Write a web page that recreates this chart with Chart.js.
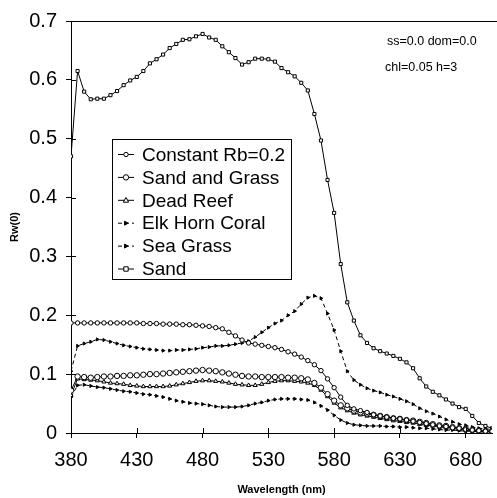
<!DOCTYPE html>
<html>
<head>
<meta charset="utf-8">
<script src="https://cdn.jsdelivr.net/npm/chart.js@4/dist/chart.umd.min.js"></script>
<style>
  html, body { margin: 0; padding: 0; background: #fff; }
  #wrap { width: 497px; height: 498px; }
</style>
</head>
<body>
<div id="wrap"><canvas id="rwChart" width="497" height="498"></canvas></div>
<script>
// wavelength (nm), every 5 nm
var wavelengths = [380, 385, 390, 395, 400, 405, 410, 415, 420, 425, 430, 435, 440, 445, 450, 455,
  460, 465, 470, 475, 480, 485, 490, 495, 500, 505, 510, 515, 520, 525, 530, 535, 540, 545, 550,
  555, 560, 565, 570, 575, 580, 585, 590, 595, 600, 605, 610, 615, 620, 625, 630, 635, 640, 645,
  650, 655, 660, 665, 670, 675, 680, 685, 690, 695, 700];

var constantRb = [0.187, 0.187, 0.187, 0.187, 0.187, 0.187, 0.187, 0.187, 0.187, 0.187, 0.187, 0.186,
  0.186, 0.186, 0.185, 0.185, 0.185, 0.184, 0.184, 0.183, 0.182, 0.181, 0.179, 0.177, 0.171, 0.165,
  0.158, 0.153, 0.151, 0.149, 0.147, 0.145, 0.142, 0.138, 0.134, 0.129, 0.123, 0.116, 0.106, 0.092,
  0.077, 0.061, 0.047, 0.041, 0.038, 0.035, 0.031, 0.029, 0.027, 0.025, 0.024, 0.022, 0.020, 0.018,
  0.016, 0.014, 0.012, 0.011, 0.009, 0.008, 0.006, 0.005, 0.004, 0.003, 0.003];

var sandGrass = [0.072, 0.096, 0.095, 0.094, 0.095, 0.096, 0.096, 0.097, 0.097, 0.098, 0.098, 0.099,
  0.100, 0.100, 0.101, 0.102, 0.103, 0.104, 0.105, 0.106, 0.107, 0.106, 0.105, 0.103, 0.101, 0.099,
  0.097, 0.096, 0.096, 0.095, 0.095, 0.095, 0.095, 0.094, 0.094, 0.093, 0.091, 0.085, 0.077, 0.066,
  0.055, 0.047, 0.042, 0.038, 0.035, 0.033, 0.031, 0.029, 0.027, 0.025, 0.024, 0.022, 0.021, 0.019,
  0.017, 0.015, 0.013, 0.012, 0.010, 0.008, 0.007, 0.005, 0.004, 0.003, 0.003];

var deadReef = [0.064, 0.092, 0.091, 0.090, 0.089, 0.087, 0.085, 0.084, 0.083, 0.081, 0.080, 0.079,
  0.079, 0.079, 0.079, 0.080, 0.082, 0.084, 0.086, 0.088, 0.089, 0.089, 0.088, 0.087, 0.085, 0.083,
  0.082, 0.081, 0.081, 0.083, 0.086, 0.088, 0.089, 0.089, 0.088, 0.087, 0.085, 0.081, 0.073, 0.062,
  0.051, 0.043, 0.038, 0.034, 0.031, 0.029, 0.027, 0.025, 0.023, 0.021, 0.020, 0.018, 0.017, 0.015,
  0.013, 0.012, 0.010, 0.009, 0.008, 0.006, 0.005, 0.004, 0.003, 0.003, 0.002];

var elkHorn = [0.105, 0.148, 0.152, 0.155, 0.159, 0.158, 0.155, 0.152, 0.149, 0.147, 0.145, 0.143,
  0.142, 0.141, 0.140, 0.140, 0.141, 0.141, 0.142, 0.143, 0.145, 0.146, 0.148, 0.148, 0.149, 0.151,
  0.153, 0.156, 0.163, 0.171, 0.179, 0.186, 0.191, 0.200, 0.207, 0.219, 0.230, 0.233, 0.229, 0.203,
  0.175, 0.139, 0.105, 0.090, 0.082, 0.076, 0.072, 0.069, 0.065, 0.062, 0.058, 0.054, 0.049, 0.042,
  0.037, 0.033, 0.028, 0.023, 0.019, 0.015, 0.013, 0.010, 0.008, 0.007, 0.006];

var seaGrass = [0.061, 0.081, 0.082, 0.080, 0.078, 0.077, 0.075, 0.073, 0.071, 0.070, 0.068, 0.066,
  0.065, 0.063, 0.061, 0.058, 0.055, 0.053, 0.051, 0.050, 0.049, 0.047, 0.045, 0.044, 0.044, 0.044,
  0.045, 0.047, 0.050, 0.052, 0.055, 0.057, 0.058, 0.058, 0.058, 0.057, 0.056, 0.052, 0.046, 0.039,
  0.030, 0.022, 0.017, 0.014, 0.013, 0.012, 0.012, 0.012, 0.011, 0.011, 0.010, 0.010, 0.009, 0.008,
  0.008, 0.007, 0.006, 0.005, 0.005, 0.004, 0.003, 0.003, 0.002, 0.002, 0.002];

var sand = [0.470, 0.615, 0.580, 0.567, 0.568, 0.568, 0.574, 0.581, 0.591, 0.599, 0.605, 0.615,
  0.628, 0.635, 0.643, 0.654, 0.661, 0.668, 0.669, 0.674, 0.678, 0.672, 0.668, 0.657, 0.647, 0.637,
  0.626, 0.630, 0.636, 0.636, 0.635, 0.631, 0.620, 0.613, 0.606, 0.595, 0.582, 0.542, 0.497, 0.430,
  0.374, 0.287, 0.222, 0.191, 0.166, 0.153, 0.144, 0.139, 0.135, 0.131, 0.126, 0.120, 0.110, 0.093,
  0.079, 0.070, 0.064, 0.057, 0.050, 0.044, 0.041, 0.029, 0.017, 0.012, 0.008];

var xTicks = [380, 430, 480, 530, 580, 630, 680];
var yTicks = [0, 0.1, 0.2, 0.3, 0.4, 0.5, 0.6, 0.7];
var notes = ["ss=0.0 dom=0.0", "chl=0.05 h=3"];

var FONT = "'Liberation Sans', Arial, sans-serif";

function pairs(ys) {
  return wavelengths.map(function (w, i) { return { x: w, y: ys[i] }; });
}

function series(label, ys, style, opts) {
  var ds = {
    label: label,
    data: pairs(ys),
    borderColor: "#000",
    borderWidth: 1,
    backgroundColor: "#fff",
    pointBorderColor: "#000",
    pointBackgroundColor: "#fff",
    pointBorderWidth: 1,
    pointStyle: style,
    pointRadius: 2.2,
    tension: 0,
    fill: false
  };
  for (var k in opts) ds[k] = opts[k];
  return ds;
}

function drawMarker(ctx, ds, x, y) {
  var r = ds.pointRadius, rot = (ds.pointRotation || 0) * Math.PI / 180;
  ctx.save();
  ctx.translate(x, y);
  ctx.rotate(rot);
  ctx.beginPath();
  if (ds.pointStyle === "circle") {
    ctx.arc(0, 0, r, 0, Math.PI * 2);
  } else if (ds.pointStyle === "rect") {
    ctx.rect(-r, -r, 2 * r, 2 * r);
  } else {
    ctx.moveTo(0, -r * 1.2);
    ctx.lineTo(r * 1.1, r * 0.8);
    ctx.lineTo(-r * 1.1, r * 0.8);
    ctx.closePath();
  }
  ctx.fillStyle = ds.pointBackgroundColor;
  ctx.fill();
  ctx.lineWidth = 1;
  ctx.strokeStyle = "#000";
  ctx.stroke();
  ctx.restore();
}

// inner tick marks, top frame line, note text and the boxed legend
var extras = {
  id: "extras",
  afterDatasetsDraw: function (chart) {
    var ctx = chart.ctx, a = chart.chartArea;
    var xs = chart.scales.x, ys = chart.scales.y;
    ctx.save();
    ctx.strokeStyle = "#000";
    ctx.lineWidth = 1;
    ctx.beginPath();
    ctx.moveTo(a.left, a.top + 0.5);
    ctx.lineTo(chart.width, a.top + 0.5);
    xTicks.forEach(function (v) {
      var px = Math.round(xs.getPixelForValue(v)) + 0.5;
      ctx.moveTo(px, a.bottom);
      ctx.lineTo(px, a.bottom - 5);
    });
    yTicks.forEach(function (v) {
      var py = Math.round(ys.getPixelForValue(v)) + 0.5;
      ctx.moveTo(a.left, py);
      ctx.lineTo(a.left + 5, py);
    });
    ctx.stroke();

    ctx.fillStyle = "#000";
    ctx.font = "12.5px " + FONT;
    ctx.textBaseline = "middle";
    ctx.textAlign = "left";
    ctx.fillText(notes[0], a.left + 316, a.top + 21);
    ctx.fillText(notes[1], a.left + 314, a.top + 47);

    // legend box
    var bx = a.left + 41, by = a.top + 118, bw = 179, bh = 140;
    ctx.fillStyle = "#fff";
    ctx.fillRect(bx, by, bw, bh);
    ctx.strokeRect(bx + 0.5, by + 0.5, bw, bh);
    ctx.font = "19px " + FONT;
    chart.data.datasets.forEach(function (ds, i) {
      var ly = by + 15.5 + i * 22.9;
      ctx.save();
      ctx.setLineDash(ds.borderDash || []);
      ctx.beginPath();
      ctx.moveTo(bx + 6, ly);
      ctx.lineTo(bx + 22, ly);
      ctx.stroke();
      ctx.restore();
      drawMarker(ctx, ds, bx + 14, ly);
      ctx.fillStyle = "#000";
      ctx.fillText(ds.label, bx + 30, ly + 1);
    });
    ctx.restore();
  }
};

new Chart(document.getElementById("rwChart"), {
  type: "line",
  data: {
    datasets: [
      series("Constant Rb=0.2", constantRb, "circle", {}),
      series("Sand and Grass", sandGrass, "circle", { pointRadius: 2.7 }),
      series("Dead Reef", deadReef, "triangle", { pointRadius: 2.4 }),
      series("Elk Horn Coral", elkHorn, "triangle", { pointRotation: 90, pointRadius: 1.8,
        pointBackgroundColor: "#000", borderDash: [4, 3] }),
      series("Sea Grass", seaGrass, "triangle", { pointRotation: 90, pointRadius: 1.8,
        pointBackgroundColor: "#000", borderDash: [4, 3] }),
      series("Sand", sand, "rect", { pointRadius: 2.2 })
    ]
  },
  options: {
    responsive: false,
    animation: false,
    devicePixelRatio: 1,
    layout: { padding: { top: 15, right: 0, left: 0, bottom: 0 } },
    plugins: {
      legend: { display: false },
      tooltip: { enabled: false }
    },
    scales: {
      x: {
        type: "linear",
        min: 380,
        max: 700,
        afterBuildTicks: function (s) { s.ticks = xTicks.map(function (v) { return { value: v }; }); },
        afterFit: function (s) { s.height = 65; },
        grid: { drawOnChartArea: false, drawTicks: true, tickLength: 5, color: "#000" },
        border: { display: true, color: "#000", width: 1 },
        ticks: { color: "#000", padding: 10, maxRotation: 0, font: { family: FONT, size: 20 } },
        title: {
          display: true, text: "Wavelength (nm)", color: "#000",
          font: { family: FONT, size: 11, weight: "bold" }, padding: { top: 0, bottom: 1 }
        }
      },
      y: {
        min: 0,
        max: 0.7,
        afterBuildTicks: function (s) { s.ticks = yTicks.map(function (v) { return { value: v }; }); },
        afterFit: function (s) { s.width = 71; },
        grid: { drawOnChartArea: false, drawTicks: true, tickLength: 5, color: "#000" },
        border: { display: true, color: "#000", width: 1 },
        ticks: {
          color: "#000", padding: 9, font: { family: FONT, size: 20 },
          callback: function (v) { return v === 0 ? "0" : v.toFixed(1); }
        },
        title: {
          display: true, text: "Rw(0)", color: "#000",
          font: { family: FONT, size: 11, weight: "bold" }, padding: { top: 8, bottom: 0 }
        }
      }
    }
  },
  plugins: [extras]
});
</script>
</body>
</html>
